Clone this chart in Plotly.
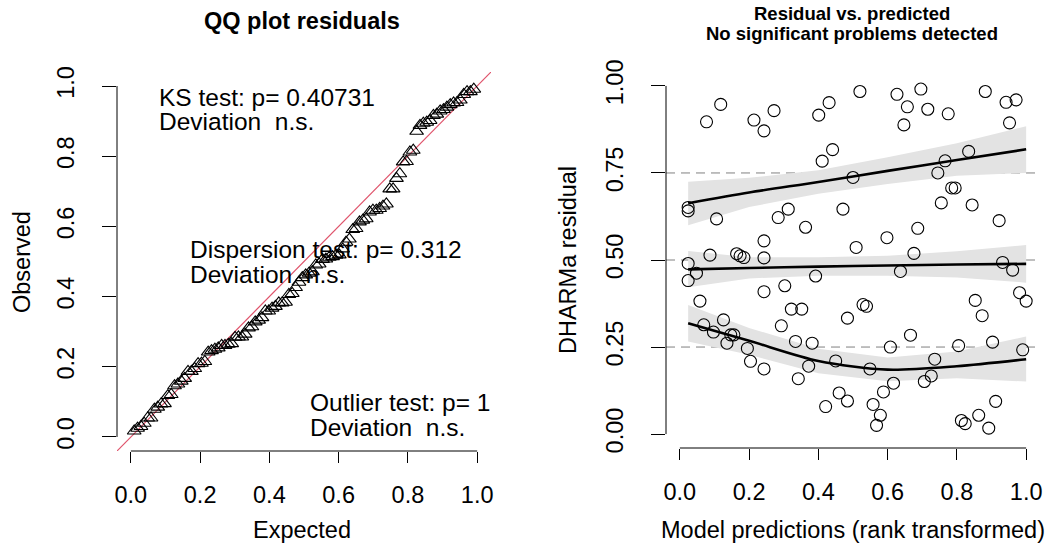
import plotly.graph_objects as go

# ---------------- data ----------------
pred_rank = [0.024, 0.024, 0.024, 0.024, 0.048, 0.058, 0.069, 0.077, 0.087, 0.097, 0.106, 0.118,
             0.126, 0.136, 0.147, 0.156, 0.164, 0.174, 0.185, 0.195, 0.204, 0.214, 0.243, 0.243,
             0.243, 0.243, 0.243, 0.272, 0.284, 0.293, 0.303, 0.313, 0.322, 0.334, 0.342, 0.352,
             0.363, 0.372, 0.382, 0.392, 0.401, 0.411, 0.421, 0.431, 0.441, 0.450, 0.460, 0.471,
             0.484, 0.484, 0.500, 0.509, 0.520, 0.529, 0.539, 0.549, 0.558, 0.568, 0.579, 0.588,
             0.598, 0.608, 0.617, 0.627, 0.637, 0.647, 0.657, 0.666, 0.676, 0.687, 0.696, 0.706,
             0.716, 0.726, 0.736, 0.745, 0.755, 0.766, 0.775, 0.785, 0.795, 0.805, 0.813, 0.824,
             0.834, 0.844, 0.853, 0.863, 0.873, 0.882, 0.892, 0.903, 0.912, 0.922, 0.932, 0.942,
             0.952, 0.961, 0.971, 0.981, 0.990, 1.000]
residuals = [0.651, 0.641, 0.490, 0.441, 0.462, 0.382, 0.314, 0.897, 0.514, 0.293, 0.618, 0.947,
             0.328, 0.261, 0.285, 0.285, 0.518, 0.512, 0.507, 0.246, 0.209, 0.902, 0.871, 0.555,
             0.506, 0.409, 0.187, 0.929, 0.622, 0.311, 0.426, 0.646, 0.359, 0.266, 0.159, 0.359,
             0.594, 0.195, 0.261, 0.454, 0.916, 0.784, 0.079, 0.952, 0.817, 0.210, 0.118, 0.646,
             0.333, 0.095, 0.737, 0.536, 0.984, 0.372, 0.367, 0.187, 0.085, 0.025, 0.054, 0.121,
             0.564, 0.250, 0.146, 0.976, 0.467, 0.888, 0.940, 0.284, 0.519, 0.591, 0.991, 0.151,
             0.933, 0.167, 0.215, 0.750, 0.664, 0.785, 0.920, 0.707, 0.707, 0.254, 0.039, 0.030,
             0.812, 0.658, 0.384, 0.054, 0.340, 0.984, 0.017, 0.264, 0.094, 0.613, 0.493, 0.953,
             0.894, 0.471, 0.960, 0.406, 0.242, 0.382]

# quantile regression fits (x grid, fitted value, lower and upper band)
q_x = [0.024, 0.2, 0.4, 0.6, 0.8, 1.0]
q75_fit = [0.663, 0.694, 0.724, 0.756, 0.787, 0.818]
q75_lo = [0.600, 0.652, 0.690, 0.718, 0.742, 0.750]
q75_hi = [0.725, 0.736, 0.758, 0.795, 0.835, 0.884]
q50_fit = [0.473, 0.477, 0.481, 0.484, 0.487, 0.489]
q50_lo = [0.422, 0.447, 0.455, 0.455, 0.450, 0.435]
q50_hi = [0.526, 0.508, 0.508, 0.512, 0.525, 0.543]
q25_fit = [0.318, 0.268, 0.210, 0.185, 0.195, 0.215]
q25_lo = [0.266, 0.228, 0.175, 0.152, 0.160, 0.151]
q25_hi = [0.371, 0.305, 0.245, 0.220, 0.237, 0.280]

ticks_qq = [0.0, 0.2, 0.4, 0.6, 0.8, 1.0]
ticks_res_y = [0.0, 0.25, 0.5, 0.75, 1.0]
ticks_res_x = [0.0, 0.2, 0.4, 0.6, 0.8, 1.0]

# QQ: sorted observed residuals vs uniform expected quantiles
n = len(residuals)
observed = sorted(residuals)
expected = [i / (n + 1) for i in range(1, n + 1)]

FONT = "Liberation Sans, Arial, Helvetica, sans-serif"
W, H = 1045, 546

fig = go.Figure()

# ---- left panel ----
fig.add_trace(go.Scatter(x=[-0.04, 1.04], y=[-0.04, 1.04], mode="lines",
                         line=dict(color="#DF536B", width=1.2), xaxis="x", yaxis="y",
                         hoverinfo="skip", showlegend=False))
fig.add_trace(go.Scatter(x=expected, y=observed, mode="markers",
                         marker=dict(symbol="triangle-up-open", size=12, color="black",
                                     line=dict(width=1.1, color="black")),
                         xaxis="x", yaxis="y", showlegend=False))

# ---- right panel ----
def band(lo, hi):
    return q_x + q_x[::-1], hi + lo[::-1]

for lo, hi in [(q25_lo, q25_hi), (q50_lo, q50_hi), (q75_lo, q75_hi)]:
    bx, by = band(lo, hi)
    fig.add_trace(go.Scatter(x=bx, y=by, mode="lines", fill="toself",
                             fillcolor="#E3E3E3", line=dict(width=0),
                             xaxis="x2", yaxis="y2", hoverinfo="skip", showlegend=False))

fig.add_trace(go.Scatter(x=pred_rank, y=residuals, mode="markers",
                         marker=dict(symbol="circle-open", size=12, color="black",
                                     line=dict(width=1.1, color="black")),
                         xaxis="x2", yaxis="y2", showlegend=False))

for fit in [q25_fit, q50_fit, q75_fit]:
    fig.add_trace(go.Scatter(x=q_x, y=fit, mode="lines", line=dict(color="black", width=2.6,
                             shape="spline", smoothing=0.8),
                             xaxis="x2", yaxis="y2", hoverinfo="skip", showlegend=False))

# ---- axes ----
def px_dom_x(a, b):
    return [a / W, b / W]

def px_dom_y(top, bottom):
    return [(H - bottom) / H, (H - top) / H]

axis_common = dict(showgrid=False, zeroline=False, showline=False, ticks="outside",
                   tickwidth=1, tickcolor="black", range=[-0.04, 1.04],
                   automargin=False,
                   tickfont=dict(family=FONT, size=23.5, color="black"))
xax = dict(ticklen=11, ticklabelstandoff=12, **axis_common)
yax = dict(ticklen=14, ticklabelstandoff=19, tickangle=-90, **axis_common)

fig.update_layout(
    width=W, height=H, margin=dict(l=0, r=0, t=0, b=0, autoexpand=False),
    paper_bgcolor="white", plot_bgcolor="white", showlegend=False,
    xaxis=dict(domain=px_dom_x(117, 491), anchor="y", tickvals=ticks_qq,
               ticktext=[f"{v:.1f}" for v in ticks_qq], **xax),
    yaxis=dict(domain=px_dom_y(72, 451), anchor="x", tickvals=ticks_qq,
               ticktext=[f"{v:.1f}" for v in ticks_qq], **yax),
    xaxis2=dict(domain=px_dom_x(666, 1040), anchor="y2", tickvals=ticks_res_x,
                ticktext=[f"{v:.1f}" for v in ticks_res_x], **xax),
    yaxis2=dict(domain=px_dom_y(72, 448), anchor="x2", tickvals=ticks_res_y,
                ticktext=[f"{v:.2f}" for v in ticks_res_y], **yax),
)

shapes = []
# axis lines spanning tick range (R style, no box)
for xa, ya in [("x", "y"), ("x2", "y2")]:
    shapes.append(dict(type="line", xref=xa, yref=f"{ya} domain", x0=0, x1=1, y0=0, y1=0,
                       line=dict(color="black", width=1)))
    shapes.append(dict(type="line", xref=f"{xa} domain", yref=ya, x0=0, x1=0, y0=0, y1=1,
                       line=dict(color="black", width=1)))
for h in [0.25, 0.5, 0.75]:
    shapes.append(dict(type="line", xref="x2 domain", yref="y2", x0=0, x1=1, y0=h, y1=h,
                       line=dict(color="#808080", width=1, dash="9px,6px"), layer="below"))
fig.update_layout(shapes=shapes)

ann = []
def txt(x, y, s, size=23.5, xanchor="center", angle=0, yanchor="middle"):
    ann.append(dict(x=x / W, y=(H - y) / H, xref="paper", yref="paper", text=s, showarrow=False,
                    xanchor=xanchor, yanchor=yanchor, textangle=angle,
                    font=dict(family=FONT, size=size, color="black")))

# titles
txt(302, 21, "<b>QQ plot residuals</b>", size=23.5)
txt(852, 13, "<b>Residual vs. predicted</b>", size=18.5)
txt(852, 33, "<b>No significant problems detected</b>", size=18.5)
# axis titles
txt(302, 530, "Expected")
txt(22, 262, "Observed", angle=-90)
txt(853, 530, "Model predictions (rank transformed)")
txt(568, 260, "DHARMa residual", angle=-90)
# test results
txt(157, 97, "KS test: p= 0.40731", xanchor="left", size=24.5)
txt(157, 122, "Deviation  n.s.", xanchor="left", size=24.5)
txt(188, 249, "Dispersion test: p= 0.312", xanchor="left", size=24.5)
txt(188, 274, "Deviation  n.s.", xanchor="left", size=24.5)
txt(308, 402, "Outlier test: p= 1", xanchor="left", size=24.5)
txt(308, 427, "Deviation  n.s.", xanchor="left", size=24.5)
fig.update_layout(annotations=ann)

fig.write_html("out.html", config={"displayModeBar": False, "staticPlot": True})

# remove default page margin so the figure sits at the window's top-left corner
with open("out.html", encoding="utf-8") as f:
    html = f.read()
html = html.replace("<body>", '<body style="margin:0;padding:0;overflow:hidden">', 1)
with open("out.html", "w", encoding="utf-8") as f:
    f.write(html)
